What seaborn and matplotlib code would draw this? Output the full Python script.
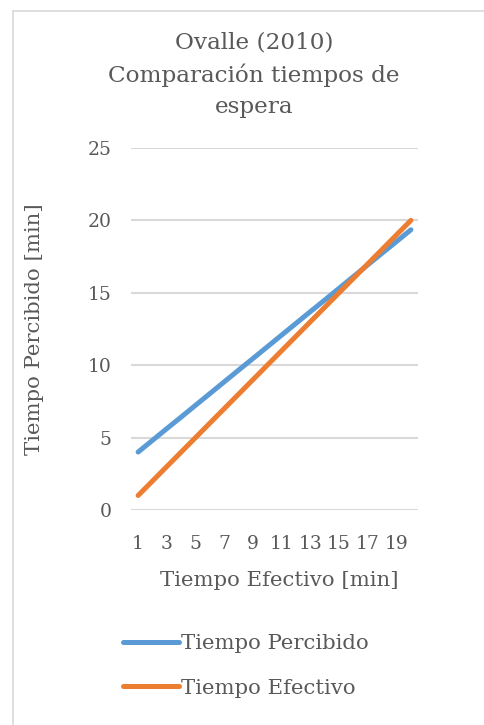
import matplotlib
matplotlib.use("Agg")
import matplotlib.pyplot as plt
from matplotlib.lines import Line2D
import seaborn as sns
import pandas as pd

tiempo_efectivo = list(range(1, 21))
tiempo_percibido = [4.0, 4.81, 5.62, 6.42, 7.23, 8.04, 8.85, 9.66, 10.46, 11.27,
                    12.08, 12.89, 13.7, 14.5, 15.31, 16.12, 16.93, 17.74, 18.54, 19.35]
serie_efectivo = [1, 2, 3, 4, 5, 6, 7, 8, 9, 10, 11, 12, 13, 14, 15, 16, 17, 18, 19, 20]
series_names = ["Tiempo Percibido", "Tiempo Efectivo"]
colors = ["#5B9BD5", "#ED7D31"]
x_ticks = [1, 3, 5, 7, 9, 11, 13, 15, 17, 19]
y_ticks = [0, 5, 10, 15, 20, 25]

df = pd.concat([
    pd.DataFrame({"x": tiempo_efectivo, "y": tiempo_percibido, "serie": series_names[0]}),
    pd.DataFrame({"x": tiempo_efectivo, "y": serie_efectivo, "serie": series_names[1]}),
])

sns.set_theme(style="white")
plt.rcParams["font.family"] = ["DejaVu Serif"]
text_color = "#595959"

fig = plt.figure(figsize=(4.85, 7.25), dpi=100)
ax = fig.add_axes([0.270, 0.2966, 0.592, 0.4993])

sns.lineplot(data=df, x="x", y="y", hue="serie", palette=colors,
             linewidth=3.6, ax=ax, legend=False, solid_capstyle="round")

ax.set_xlim(0.5, 20.5)
ax.set_ylim(0, 25)
ax.set_xticks(x_ticks)
ax.set_yticks(y_ticks)
ax.tick_params(axis="both", length=0, labelsize=13.5, colors=text_color)
ax.tick_params(axis="x", pad=18)
ax.tick_params(axis="y", pad=14)
ax.grid(axis="y", color="#D9D9D9", linewidth=1.5)
ax.set_axisbelow(True)
for s in ax.spines.values():
    s.set_visible(False)

ax.set_xlabel("Tiempo Efectivo [min]", fontsize=15.3, color=text_color)
ax.xaxis.set_label_coords(0.515, -0.168)
ax.set_ylabel("Tiempo Percibido [min]", fontsize=15.3, color=text_color, labelpad=31)

fig.text(0.524, 0.957, "Ovalle (2010)\nComparación tiempos de\nespera", ha="center", va="top",
         fontsize=16.7, color=text_color, linespacing=1.55)

handles = [Line2D([0], [0], color=c, linewidth=3.6, solid_capstyle="round") for c in colors]
fig.legend(handles, series_names, loc="upper left", bbox_to_anchor=(0.237, 0.137),
           frameon=False, fontsize=15.3, labelcolor=text_color, handlelength=2.6,
           handletextpad=0.1, labelspacing=1.2, borderaxespad=0)

# chart frame (partially visible)
fig.add_artist(Line2D([13 / 485, 13 / 485], [0, 1 - 11 / 725], transform=fig.transFigure,
                      color="#D9D9D9", linewidth=1.2))
fig.add_artist(Line2D([13 / 485, 1], [1 - 11 / 725, 1 - 11 / 725], transform=fig.transFigure,
                      color="#D9D9D9", linewidth=1.2))

fig.savefig("out.png", dpi=100)
